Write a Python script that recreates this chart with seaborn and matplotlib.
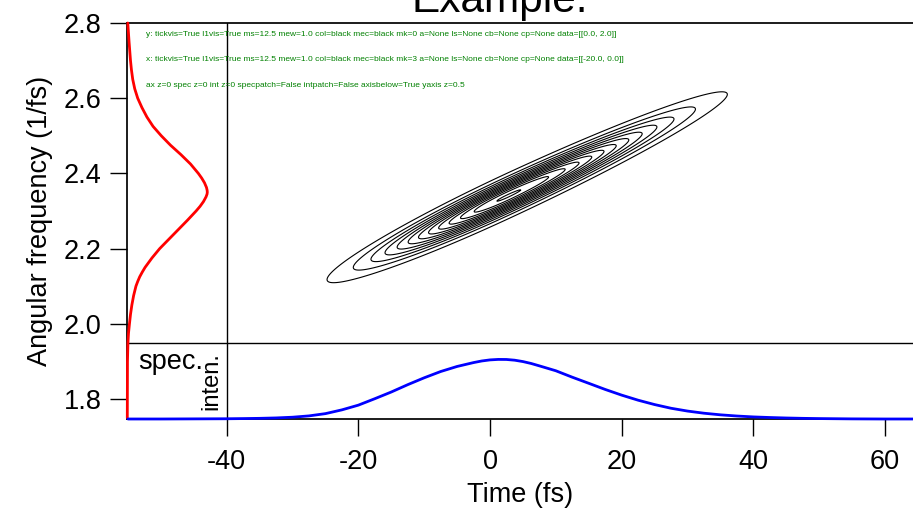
import numpy as np
import pandas as pd
import matplotlib
matplotlib.use("Agg")
import matplotlib.pyplot as plt
from matplotlib.ticker import FormatStrFormatter
import seaborn as sns

# Temporal intensity (normalised) of the pulse
time_fs = [-55, -50, -45, -40, -37.5, -35, -32.5, -30, -27.5, -25, -22.5, -20,
           -17.5, -15, -12.5, -10, -7.5, -5, -2.5, -1.25, 0, 1.25, 2.5, 3.75,
           5, 6.25, 7.5, 10, 12.5, 15, 17.5, 20, 22.5, 25, 27.5, 30, 32.5, 35,
           37.5, 40, 42.5, 45, 47.5, 50, 55, 60, 65]
intensity = [0, 0, 0.002, 0.004, 0.007, 0.011, 0.018, 0.03, 0.052, 0.09, 0.153,
             0.232, 0.34, 0.452, 0.575, 0.69, 0.795, 0.88, 0.945, 0.972, 0.99,
             0.998, 0.997, 0.985, 0.962, 0.93, 0.89, 0.808, 0.70, 0.598, 0.495,
             0.40, 0.315, 0.242, 0.18, 0.133, 0.097, 0.07, 0.05, 0.035, 0.025,
             0.017, 0.011, 0.007, 0.002, 0, 0]

# Power spectrum (normalised) versus angular frequency
freq_w = [1.75, 1.90, 1.95, 1.975, 2.0, 2.025, 2.05, 2.075, 2.10, 2.1125, 2.125,
          2.1375, 2.15, 2.175, 2.20, 2.225, 2.25, 2.275, 2.30, 2.3125, 2.325,
          2.3375, 2.345, 2.35, 2.355, 2.3625, 2.375, 2.3875, 2.40, 2.425, 2.45,
          2.475, 2.50, 2.525, 2.55, 2.575, 2.60, 2.625, 2.65, 2.675, 2.70,
          2.725, 2.75, 2.775, 2.80]
spectrum = [0, 0.002, 0.008, 0.015, 0.027, 0.04, 0.057, 0.079, 0.108, 0.13,
            0.155, 0.187, 0.222, 0.308, 0.405, 0.52, 0.635, 0.75, 0.86, 0.91,
            0.952, 0.984, 0.997, 1.0, 0.998, 0.99, 0.965, 0.93, 0.888, 0.79,
            0.67, 0.54, 0.425, 0.322, 0.245, 0.183, 0.13, 0.093, 0.068, 0.052,
            0.04, 0.031, 0.022, 0.014, 0.006]

# Chirped-pulse time-frequency distribution parameters
t_center = 2.7          # fs
w_center = 2.34         # 1/fs
sigma_t_early = 12.1    # fs
sigma_t_late = 14.7     # fs
sigma_w = 0.027         # 1/fs
chirp_rate = 0.0081     # 1/fs^2
contour_fractions = [0.0762 * k for k in range(1, 14)]

x_ticks = [-40, -20, 0, 20, 40, 60]
y_ticks = [1.8, 2.0, 2.2, 2.4, 2.6, 2.8]

FS = 19.5

sns.set_theme(style="ticks")
plt.rcParams['font.family'] = ['Liberation Sans', 'DejaVu Sans']
plt.rcParams['axes.unicode_minus'] = False
plt.rcParams['axes.edgecolor'] = 'black'
plt.rcParams['xtick.color'] = 'black'
plt.rcParams['ytick.color'] = 'black'
plt.rcParams['text.color'] = 'black'
plt.rcParams['axes.labelcolor'] = 'black'

W, H = 913, 509
fig = plt.figure(figsize=(W / 100, H / 100), dpi=100)
left, right, top, bottom = 127.3, 913, 23, 419
ax = fig.add_axes([left / W, 1 - bottom / H, (right - left) / W, (bottom - top) / H])

ax.set_xlim(-55.1, 64.26)
ax.set_ylim(1.7468, 2.8)
ax.set_xticks(x_ticks)
ax.set_yticks(y_ticks)
ax.yaxis.set_major_formatter(FormatStrFormatter('%.1f'))
ax.xaxis.set_tick_params(direction='out', length=12.5, width=1.0,
                         labelsize=FS, pad=9)
ax.yaxis.set_tick_params(direction='out', length=12.5, width=1.0,
                         labelsize=FS, pad=6)
ax.spines['right'].set_visible(False)

# Panel dividers
ax.axhline(1.95, color='black', lw=1.0)
ax.axvline(-40, color='black', lw=1.0)

# Time-frequency contour map
tg = np.linspace(-40, 64, 700)
wg = np.linspace(1.95, 2.8, 500)
T, Wg = np.meshgrid(tg, wg)
sig_t = np.where(T < t_center, sigma_t_early, sigma_t_late)
Z = np.exp(-(T - t_center) ** 2 / (2 * sig_t ** 2)) * \
    np.exp(-(Wg - w_center - chirp_rate * (T - t_center)) ** 2 / (2 * sigma_w ** 2))
ax.contour(tg, wg, Z, levels=contour_fractions, colors='black', linewidths=0.8)

# Spectrum on the left panel (shares the frequency axis)
ax_spec = ax.twiny()
ax_spec.set_xlim(0, (right - left) / 80.0)
sns.lineplot(data=pd.DataFrame({"w": freq_w, "s": spectrum}), x="s", y="w",
             sort=False, estimator=None, color=(1, 0, 0), lw=2.0, ax=ax_spec)
ax_spec.xaxis.set_visible(False)

# Intensity on the bottom panel (shares the time axis)
ax_int = ax.twinx()
ax_int.set_ylim(0, (bottom - top) / 59.7)
sns.lineplot(data=pd.DataFrame({"t": time_fs, "i": intensity}), x="t", y="i",
             sort=False, estimator=None, color=(0, 0, 1), lw=2.0, ax=ax_int)
ax_int.yaxis.set_visible(False)

for a in (ax_spec, ax_int):
    for s in a.spines.values():
        s.set_visible(False)
    for line in a.lines:
        line.set_clip_on(False)

ax.set_xlabel("Time (fs)", fontsize=FS, labelpad=5)
ax.set_ylabel("Angular frequency (1/fs)", fontsize=FS, labelpad=8)

ax.text(-43.6, 1.932, "spec.", ha='right', va='top', fontsize=FS)
ax.text(-40.6, 1.924, "inten.", ha='right', va='top', rotation=90, fontsize=17)

fig.text(500 / W, 1 - 12 / H, "Example.", ha='center', va='baseline', fontsize=30.5)

fig.canvas.draw()
yt = ax.yaxis.get_major_ticks()[1]
xt = ax.xaxis.get_major_ticks()[1]
rows = []
for tag, tk in (("y", yt), ("x", xt)):
    l1 = tk.tick1line
    rows.append(f"{tag}: tickvis={tk.get_visible()} l1vis={l1.get_visible()} ms={l1.get_markersize()} "
                f"mew={l1.get_markeredgewidth()} col={l1.get_color()} mec={l1.get_markeredgecolor()} "
                f"mk={l1.get_marker()} a={l1.get_alpha()} ls={l1.get_linestyle()} "
                f"cb={l1.get_clip_box()} cp={l1.get_clip_path()} data={l1.get_xydata().tolist()}")
rows.append(f"ax z={ax.get_zorder()} spec z={ax_spec.get_zorder()} int z={ax_int.get_zorder()} "
            f"specpatch={ax_spec.patch.get_visible()} intpatch={ax_int.patch.get_visible()} "
            f"axisbelow={ax.get_axisbelow()} yaxis z={ax.yaxis.get_zorder()}")
for i, s in enumerate(rows):
    fig.text(0.16, 0.93 - i * 0.05, s, fontsize=6, color='green')

fig.savefig("out.png", dpi=100)
